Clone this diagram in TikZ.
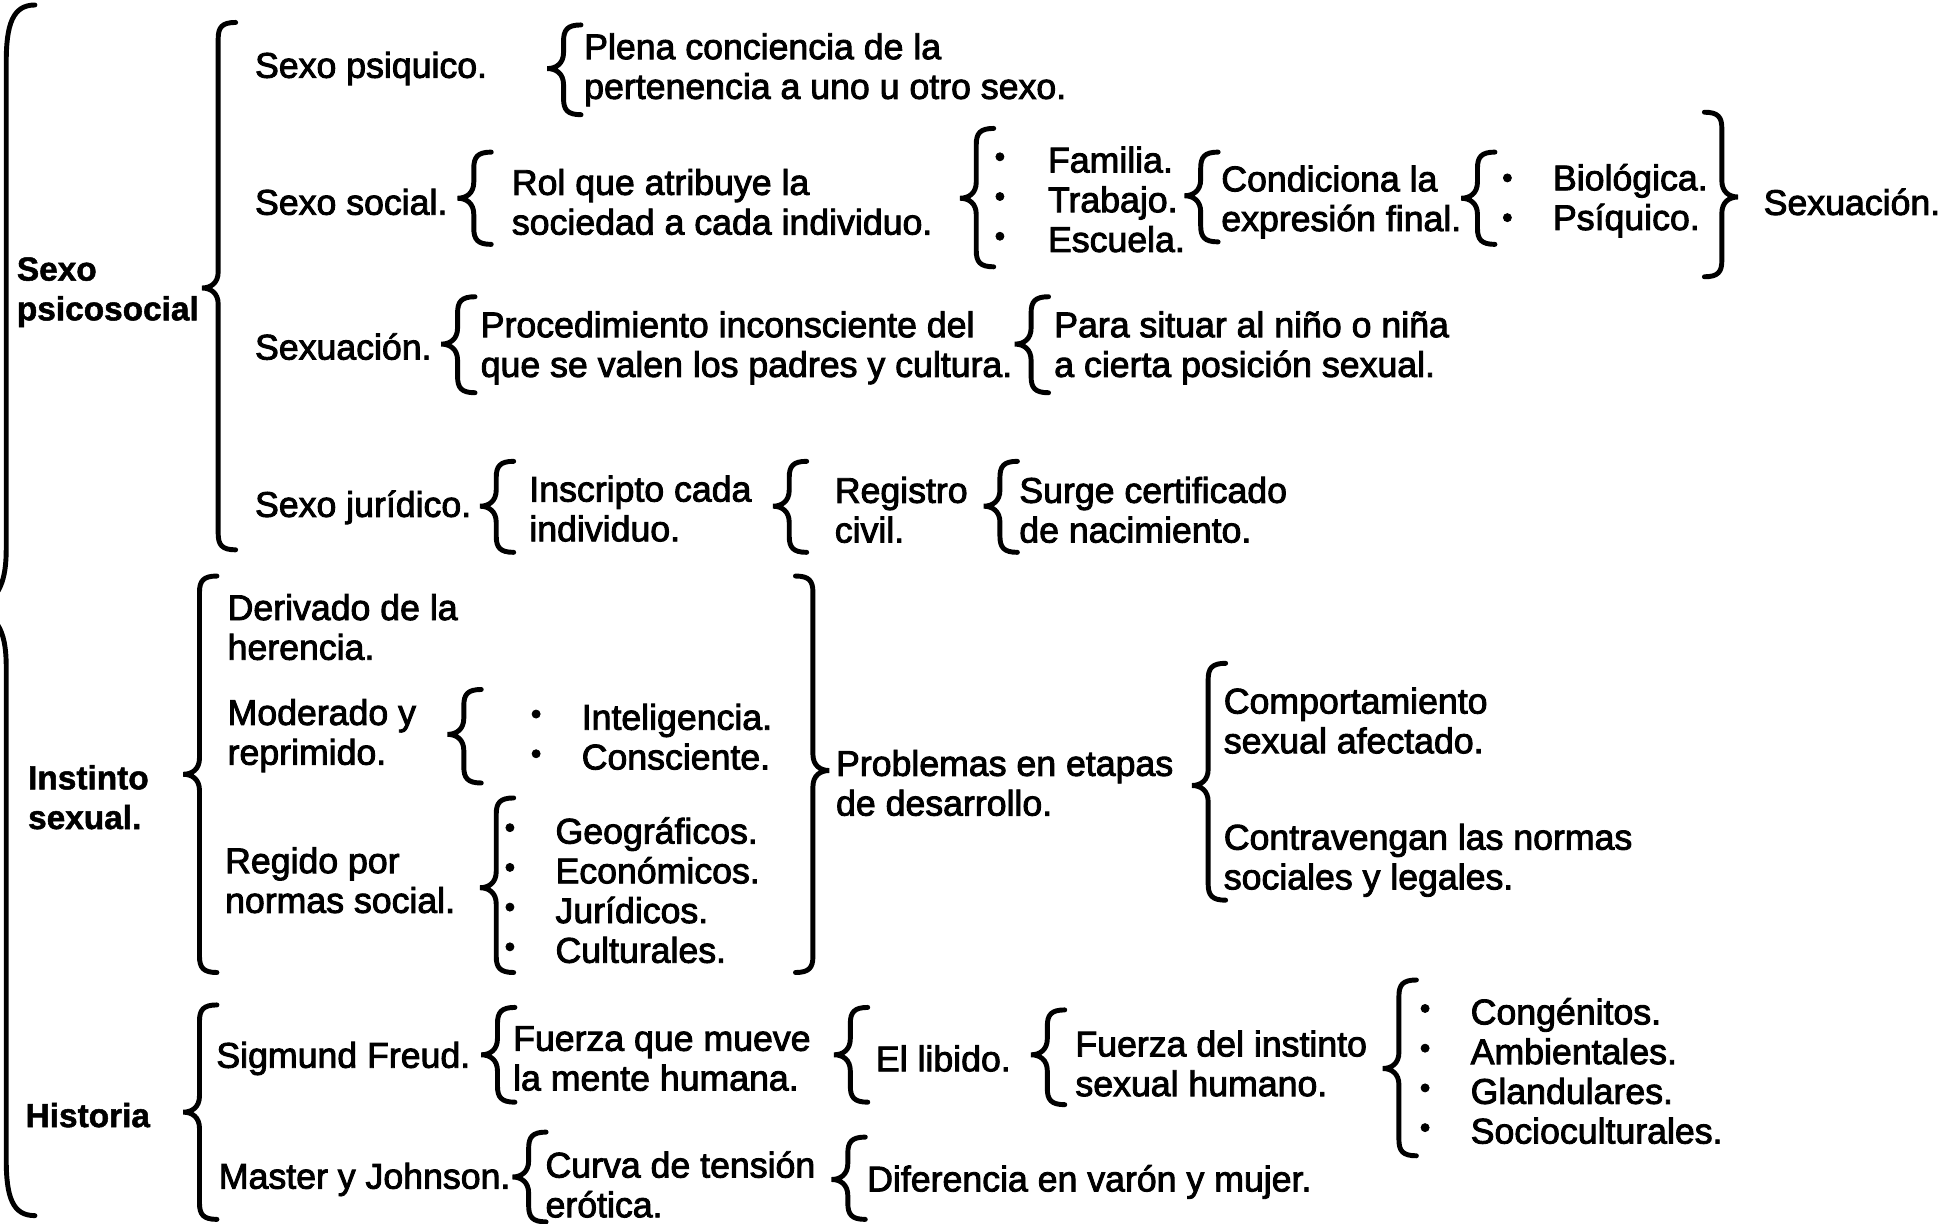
\documentclass[tikz,border=0pt]{standalone}
\usepackage{fontspec}
\setmainfont{Liberation Sans}
\newfontfamily\bodyfont{Liberation Sans}[FakeBold=2.5]
\newfontfamily\headfont{Liberation Sans Bold}[FakeBold=1.5]
\usetikzlibrary{positioning}

% curly brace: #1 side (1 = opens right, -1 = opens left), #2 stem x, #3 top, #4 tip, #5 bottom
\newcommand{\curly}[5]{%
  \draw[brk, shift={(#2,0)}, xscale=#1]
    (14,#3) .. controls (3,#3) and (0,{#3+4}) .. (0,{#3+13})
    -- (0,{#4-13}) .. controls (0,{#4-4}) and (-6,#4) .. (-13,#4)
    .. controls (-6,#4) and (0,{#4+4}) .. (0,{#4+13})
    -- (0,{#5-13}) .. controls (0,{#5-4}) and (3,#5) .. (14,#5);}

\begin{document}
\begin{tikzpicture}[
    x=0.012468cm, y=-0.012468cm,
    txt/.style={anchor=west, inner sep=0pt, align=left, yshift=-0.7pt, font=\bodyfont\fontsize{10.15}{11.3}\selectfont},
    head/.style={anchor=west, inner sep=0pt, align=left, yshift=-0.5pt, font=\headfont\fontsize{9.5}{11.3}\selectfont},
    dots/.style={txt, anchor=center, font=\bodyfont\fontsize{8.5}{11.3}\selectfont},
    brk/.style={line width=1.4pt, line cap=round}
]
\useasboundingbox (0,0) rectangle (1568,981);

% main headings
\node[head] (psicosocial) at (13,233) {Sexo\\psicosocial};
\node[head] (instinto) at (22,638) {Instinto\\sexual.};
\node[head] (historia) at (20,893) {Historia};

% Sexo psicosocial
\node[txt] (psiquico) at (204,53) {Sexo psiquico.};
\node[txt] (plena) at (468,54) {Plena conciencia de la\\pertenencia a uno u otro sexo.};
\node[txt] (social) at (204,160) {Sexo social.};
\node[txt] (rol) at (410,160) {Rol que atribuye la\\sociedad a cada individuo.};
\node[dots] (famdots) at (802,158) {•\\•\\•};
\node[txt] (familia) at (840,158) {Familia.\\Trabajo.\\Escuela.};
\node[txt] (condiciona) at (979,160) {Condiciona la\\expresión final.};
\node[dots] (biodots) at (1209,159) {•\\•};
\node[txt] (biologica) at (1245,159) {Biológica.\\Psíquico.};
\node[txt] (sexuacionb) at (1414,160) {Sexuación.};
\node[txt] (sexuacion) at (204,276) {Sexuación.};
\node[txt] (procedimiento) at (385,277) {Procedimiento inconsciente del\\que se valen los padres y cultura.};
\node[txt] (situar) at (845,277) {Para situar al niño o niña\\a cierta posición sexual.};
\node[txt] (juridico) at (204,405) {Sexo jurídico.};
\node[txt] (inscripto) at (424,406) {Inscripto cada\\individuo.};
\node[txt] (registro) at (669,407) {Registro\\civil.};
\node[txt] (certificado) at (817,407) {Surge certificado\\de nacimiento.};

% Instinto sexual
\node[txt] (herencia) at (182,501) {Derivado de la\\herencia.};
\node[txt] (moderado) at (182,588) {Moderado y\\reprimido.};
\node[dots] (intdots) at (430,589) {•\\•};
\node[txt] (inteligencia) at (466,589) {Inteligencia.\\Consciente.};
\node[txt] (regido) at (180,704) {Regido por\\normas social.};
\node[dots] (geodots) at (409,712) {•\\•\\•\\•};
\node[txt] (geograficos) at (445,712) {Geográficos.\\Económicos.\\Jurídicos.\\Culturales.};
\node[txt] (problemas) at (670,626) {Problemas en etapas\\de desarrollo.};
\node[txt] (comportamiento) at (981,576) {Comportamiento\\sexual afectado.};
\node[txt] (contravengan) at (981,688) {Contravengan las normas\\sociales y legales.};

% Historia
\node[txt] (freud) at (173,847) {Sigmund Freud.};
\node[txt] (mueve) at (411,847) {Fuerza que mueve\\la mente humana.};
\node[txt] (libido) at (702,847) {El libido.};
\node[txt] (fuerza) at (862,851) {Fuerza del instinto\\sexual humano.};
\node[dots] (factdots) at (1143,857) {•\\•\\•\\•};
\node[txt] (congenitos) at (1179,857) {Congénitos.\\Ambientales.\\Glandulares.\\Socioculturales.};
\node[txt] (master) at (175,944) {Master y Johnson.};
\node[txt] (curva) at (437,948) {Curva de tensión\\erótica.};
\node[txt] (diferencia) at (695,946) {Diferencia en varón y mujer.};

% big brace, tip outside the page
\draw[brk] (28,4) .. controls (10,4) and (5,20) .. (5,50) -- (5,440)
    .. controls (5,465) and (0,480) .. (-18,488)
    .. controls (0,496) and (5,510) .. (5,535) -- (5,930)
    .. controls (5,960) and (10,975) .. (28,975);

% braces
\curly{1}{175}{18}{231}{441}
\curly{1}{452}{20}{55}{92}
\curly{1}{380}{122}{159}{196}
\curly{1}{783}{103}{159}{214}
\curly{1}{963}{122}{157}{194}
\curly{1}{1185}{122}{159}{196}
\curly{-1}{1381}{90}{158}{222}
\curly{1}{367}{238}{276}{315}
\curly{1}{827}{238}{276}{315}
\curly{1}{398}{370}{406}{443}
\curly{1}{633}{370}{406}{443}
\curly{1}{802}{370}{406}{443}
\curly{1}{160}{462}{621}{780}
\curly{1}{372}{553}{589}{628}
\curly{1}{398}{640}{712}{780}
\curly{-1}{652}{462}{618}{780}
\curly{1}{969}{532}{630}{722}
\curly{1}{160}{806}{892}{978}
\curly{1}{399}{808}{846}{884}
\curly{1}{682}{808}{846}{884}
\curly{1}{840}{810}{846}{886}
\curly{1}{1122}{786}{857}{927}
\curly{1}{424}{908}{944}{980}
\curly{1}{680}{912}{946}{978}

\end{tikzpicture}
\end{document}
